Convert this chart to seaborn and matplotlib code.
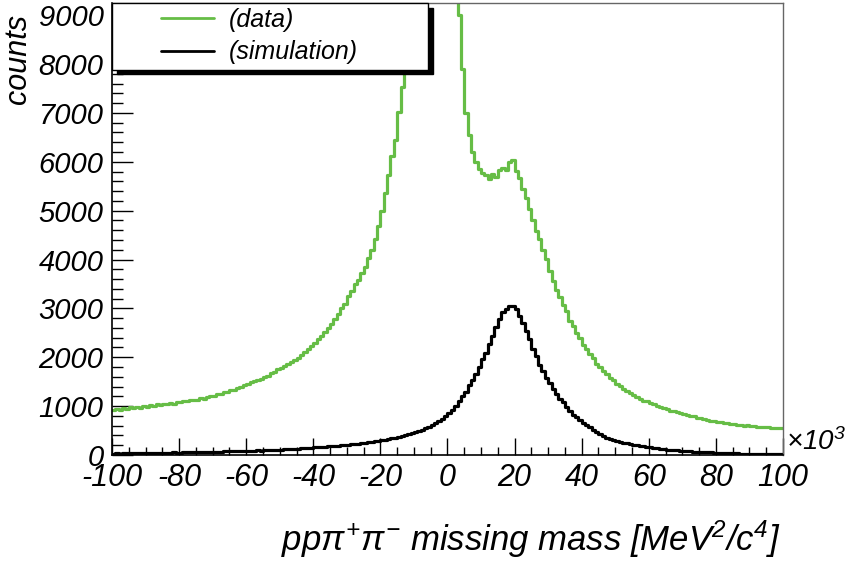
import numpy as np
import pandas as pd
import matplotlib
matplotlib.use("Agg")
import matplotlib.pyplot as plt
import seaborn as sns
from matplotlib.lines import Line2D
from matplotlib.legend_handler import HandlerLine2D

# ---- data (1 MeV^2/c^4 x10^3 bins from -100 to 100) ----
bin_edges = list(range(-100, 101, 1))

data_counts = [
    925, 950, 930, 960, 945, 975, 955, 985, 970, 1000,
    990, 1015, 1000, 1035, 1020, 1045, 1035, 1065, 1050, 1080,
    1080, 1105, 1095, 1120, 1135, 1125, 1160, 1150, 1185, 1200,
    1215, 1245, 1250, 1280, 1290, 1320, 1335, 1370, 1395, 1430,
    1455, 1490, 1505, 1545, 1560, 1605, 1625, 1670, 1700, 1750,
    1780, 1815, 1860, 1895, 1950, 1985, 2050, 2100, 2170, 2230,
    2300, 2365, 2445, 2515, 2605, 2685, 2790, 2880, 3005, 3100,
    3250, 3360, 3490, 3590, 3730, 3850, 4030, 4190, 4430, 4690,
    5000, 5360, 5740, 6110, 6440, 7010, 7540, 8120, 8790, 9600,
    10500, 11800, 13000, 14500, 15500, 16000, 16000, 15500, 15000, 14200,
    13300, 12000, 10500, 9000, 7900, 7000, 6550, 6200, 5990, 5850,
    5780, 5720, 5640, 5760, 5690, 5830, 5870, 5840, 5990, 6030,
    5810, 5660, 5440, 5260, 5040, 4810, 4590, 4430, 4190, 4010,
    3770, 3570, 3370, 3240, 3070, 2940, 2750, 2650, 2490, 2390,
    2260, 2170, 2060, 1980, 1870, 1810, 1715, 1660, 1575, 1525,
    1455, 1410, 1345, 1305, 1260, 1225, 1180, 1155, 1110, 1095,
    1055, 1035, 995, 990, 955, 945, 910, 905, 875, 865,
    840, 825, 800, 790, 765, 750, 730, 720, 695, 695,
    675, 670, 655, 650, 630, 635, 610, 615, 600, 605,
    590, 590, 580, 580, 565, 570, 555, 560, 545, 550,
]

sim_counts = [
    30, 36, 28, 38, 33, 40, 34, 42, 37, 41,
    43, 38, 46, 41, 48, 44, 51, 46, 52, 49,
    51, 56, 52, 59, 55, 61, 58, 64, 60, 67,
    64, 70, 68, 73, 75, 72, 80, 78, 84, 82,
    87, 91, 88, 96, 92, 101, 98, 105, 109, 106,
    111, 116, 118, 123, 126, 131, 135, 141, 145, 151,
    155, 159, 166, 169, 176, 181, 186, 193, 199, 206,
    211, 219, 226, 233, 241, 251, 259, 269, 279, 291,
    301, 313, 326, 339, 353, 369, 386, 406, 426, 449,
    471, 496, 521, 549, 579, 611, 646, 691, 741, 796,
    862, 928, 1012, 1098, 1205, 1296, 1424, 1536, 1664, 1796,
    1955, 2096, 2266, 2436, 2628, 2774, 2931, 2982, 3058, 3046,
    2996, 2842, 2708, 2532, 2368, 2172, 2018, 1852, 1728, 1584,
    1476, 1352, 1258, 1144, 1076, 974, 906, 824, 776, 712,
    664, 606, 563, 512, 473, 428, 398, 357, 333, 302,
    287, 266, 254, 236, 227, 210, 200, 184, 178, 166,
    160, 146, 140, 126, 122, 112, 110, 100, 98, 90,
    89, 81, 79, 71, 69, 64, 63, 57, 56, 51,
    49, 45, 43, 39, 38, 34, 34, 30, 30, 26,
    26, 23, 23, 19, 20, 16, 17, 13, 14, 11,
]

series_labels = ["(data)", "(simulation)"]
x_ticks = list(range(-100, 101, 20))
y_ticks = list(range(0, 9001, 1000))

# ---- style ----
sns.set_style("white")
plt.rcParams["font.family"] = ["Liberation Sans", "DejaVu Sans"]
plt.rcParams["font.style"] = "italic"
plt.rcParams["axes.unicode_minus"] = False
plt.rcParams["mathtext.fontset"] = "custom"
plt.rcParams["mathtext.rm"] = "Liberation Sans:italic"
plt.rcParams["mathtext.it"] = "Liberation Sans:italic"
plt.rcParams["mathtext.sf"] = "Liberation Sans:italic"
plt.rcParams["text.color"] = "black"
plt.rcParams["axes.labelcolor"] = "black"
plt.rcParams["xtick.color"] = "black"
plt.rcParams["ytick.color"] = "black"

green = "#66bd46"

fig = plt.figure(figsize=(8.49, 5.61), dpi=100)
ax = fig.add_axes([112 / 849, 1 - 455 / 561, 671 / 849, 452 / 561])

edges = np.array(bin_edges, dtype=float)
centers = (edges[:-1] + edges[1:]) / 2
df_data = pd.DataFrame({"mass": centers, "counts": data_counts})
df_sim = pd.DataFrame({"mass": centers, "counts": sim_counts})

sns.histplot(data=df_data, x="mass", weights="counts", bins=list(edges),
             element="step", fill=False, color=green, linewidth=2.3, ax=ax)
sns.histplot(data=df_sim, x="mass", weights="counts", bins=list(edges),
             element="step", fill=False, color="black", linewidth=2.3, ax=ax)

ax.set_xlim(-100, 100)
ax.set_ylim(0, 9250)
ax.set_xticks(x_ticks)
ax.set_xticks(range(-100, 101, 5), minor=True)
ax.set_yticks(y_ticks)
ax.set_yticks(range(0, 9250, 200), minor=True)
ax.tick_params(axis="both", which="both", direction="in", top=False,
               right=False, bottom=True, left=True, colors="black")
ax.tick_params(axis="x", which="major", length=12, width=1, labelsize=22, pad=6)
ax.tick_params(axis="x", which="minor", length=6, width=1)
ax.tick_params(axis="y", which="major", length=15, width=1, labelsize=21, pad=6)
ax.tick_params(axis="y", which="minor", length=8, width=1)

for side in ["left", "bottom"]:
    ax.spines[side].set_color("black")
    ax.spines[side].set_linewidth(1.2)
for side in ["top", "right"]:
    ax.spines[side].set_color("#666666")
    ax.spines[side].set_linewidth(1.0)

ax.set_ylabel("counts", fontsize=22, loc="top")
ax.yaxis.set_label_coords(-0.118, 0.975)
ax.set_xlabel(r"$pp\pi^{+}\pi^{-}$ missing mass [MeV$^{2}$/c$^{4}$]",
              fontsize=25, loc="right")
ax.xaxis.set_label_coords(0.996, -0.14)

ax.text(1.005, 0.028, r"×10$^{3}$", transform=ax.transAxes, fontsize=20,
        ha="left", va="center")

handles = [Line2D([], [], color=green, lw=2), Line2D([], [], color="black", lw=2)]
leg = ax.legend(handles, series_labels, loc="upper left",
                bbox_to_anchor=(0, 0.856, 0.471, 0.144), mode="expand",
                borderaxespad=0, fontsize=18, handlelength=3.89,
                handletextpad=0.6, borderpad=0.2, labelspacing=0.34,
                fancybox=False, frameon=True, framealpha=1,
                facecolor="white", edgecolor="black",
                shadow={"color": "black", "alpha": 1, "ox": 3.5, "oy": -3.5},
                handler_map={Line2D: HandlerLine2D(xpad=1.77)})
leg.get_frame().set_linewidth(1.0)

fig.savefig("out.png", dpi=100)
